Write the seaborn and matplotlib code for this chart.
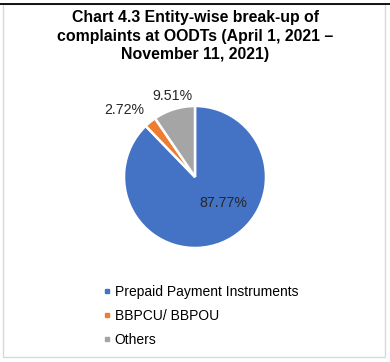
import matplotlib
matplotlib.use('Agg')
import matplotlib.pyplot as plt
from matplotlib.lines import Line2D
from matplotlib.patches import Rectangle
import seaborn as sns

# Data
categories = ['Prepaid Payment Instruments', 'BBPCU/ BBPOU', 'Others']
shares = [87.77, 2.72, 9.51]
pct_labels = ['87.77%', '2.72%', '9.51%']
colors = ['#4472C4', '#ED7D31', '#A5A5A5']

sns.set_style('white')
plt.rcParams['font.family'] = ['Liberation Sans', 'DejaVu Sans']
palette = sns.color_palette(colors)

W, H = 390, 362
fig = plt.figure(figsize=(W / 100, H / 100), dpi=100)

# frame of the chart area
fig.patches.append(Rectangle((3 / W, 1 - 357 / H), 382 / W, 353 / H,
                             transform=fig.transFigure, fill=False,
                             edgecolor='#D9D9D9', linewidth=1.0))
fig.add_artist(Line2D([0, 1], [1 - 4 / H, 1 - 4 / H], transform=fig.transFigure,
                      color='black', linewidth=1.3))

# Title
fig.text(195 / W, 1 - 36 / H,
         'Chart 4.3 Entity-wise break-up of\ncomplaints at OODTs (April 1, 2021 \u2013\nNovember 11, 2021)',
         ha='center', va='center', fontsize=11.4, fontweight='bold',
         color='#000000', linespacing=1.33)

# Pie
r = 71
cx, cy = 195, 177
ax = fig.add_axes([(cx - r) / W, 1 - (cy + r) / H, 2 * r / W, 2 * r / H])
wedges, _ = ax.pie(shares, colors=palette, startangle=90, counterclock=False,
                   wedgeprops=dict(edgecolor='white', linewidth=1.8))
ax.set_xlim(-1, 1)
ax.set_ylim(-1, 1)
ax.set_axis_off()

label_pos = [(0.40, -0.36), (-0.99, 0.94), (-0.32, 1.14)]
for txt, (x, y) in zip(pct_labels, label_pos):
    ax.text(x, y, txt, ha='center', va='center', fontsize=10.2, color='#262626',
            clip_on=False)

# Legend
handles = [Line2D([], [], marker='s', linestyle='none', markersize=3.2,
                  markerfacecolor=c, markeredgecolor=c) for c in palette]
fig.legend(handles, categories, loc='upper left',
           bbox_to_anchor=(96 / W, 1 - 278 / H), frameon=False,
           fontsize=10, handlelength=0.6, handletextpad=0.25,
           labelspacing=0.72, borderpad=0, labelcolor='#000000')

fig.savefig('out.png', dpi=100)
